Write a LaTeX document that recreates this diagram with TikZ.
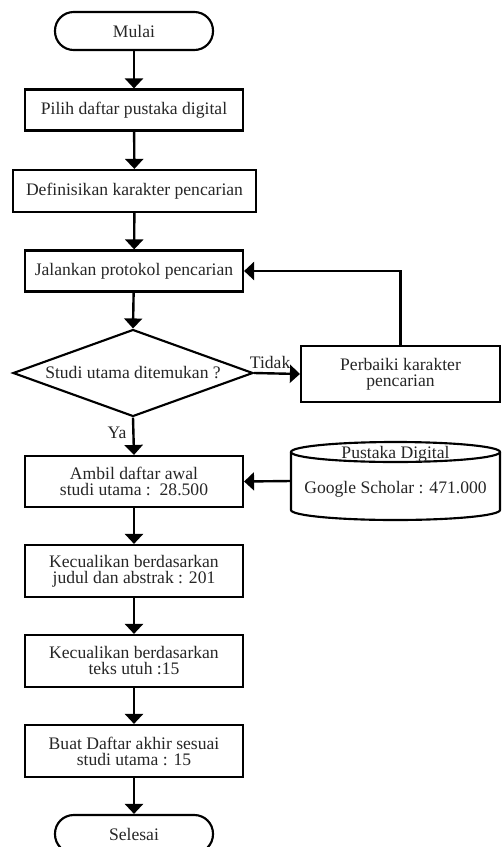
\documentclass[tikz,border=0pt]{standalone}
\usepackage{fontspec}
\setmainfont{Liberation Serif}
\usetikzlibrary{shapes.geometric,arrows.meta}
\begin{document}
\begin{tikzpicture}[x=0.75pt,y=-0.75pt,
  every node/.style={font=\fontsize{13.2}{12}\selectfont, align=center, text=black!85},
  box/.style={draw, line width=1.6pt, rectangle, inner sep=2pt, minimum width=163.5pt},
  term/.style={draw, line width=1.6pt, rectangle, rounded corners=14pt, minimum width=118.5pt, minimum height=28.5pt},
  dia/.style={draw, line width=1.6pt, diamond, inner sep=0pt, minimum width=180pt, minimum height=65.25pt},
  arr/.style={line width=1.8pt, -{Triangle[width=13.5pt,length=7.5pt]}}]
\useasboundingbox (0,0) rectangle (502,847);
\node[term] (start) at (134,31) {Mulai};
\node[box, minimum height=30.75pt] (pilih) at (134,110) {Pilih daftar pustaka digital};
\node[box, minimum width=182.25pt, minimum height=31.5pt] (def) at (134.5,191) {Definisikan karakter pencarian};
\node[box, minimum height=30.75pt] (jal) at (134,271) {Jalankan protokol pencarian};
\node[dia] (dec) at (133,373) {};
\node (dectxt) at (dec.center) {Studi utama ditemukan ?};
\node[box, minimum width=149.25pt, minimum height=42pt] (perb) at (400.5,374) {Perbaiki karakter\\pencarian};
\node[box, minimum height=38.25pt] (ambil) at (134,481.5) {Ambil daftar awal\\studi utama :\ \ 28.500};
\node[minimum width=156.75pt, minimum height=58.5pt, inner sep=0pt] (cyl) at (395.5,481) {};
\draw[line width=1.6pt] (291,452) -- (291,510) arc[start angle=180,end angle=360,x radius=78.375pt,y radius=7.5pt] -- (500,452);
\draw[line width=1.6pt] (395.5,452) ellipse[x radius=78.375pt, y radius=7.5pt];
\node (cylt) at (395.5,454) {Pustaka Digital};
\node (cylb) at (395.5,489) {Google Scholar : 471.000};
\node[box, minimum height=39pt] (kec1) at (134,571) {Kecualikan berdasarkan\\judul dan abstrak : 201};
\node[box, minimum height=39pt] (kec2) at (134,661) {Kecualikan berdasarkan\\teks utuh :15};
\node[box, minimum height=39pt] (buat) at (134,751) {Buat Daftar akhir sesuai\\studi utama : 15};
\node[term] (stop) at (134,834) {Selesai};
\draw[arr] (start) -- (pilih);
\draw[arr] (pilih) -- (def);
\draw[arr] (def) -- (jal);
\draw[arr] (jal) -- (dec.north);
\draw[arr] (dec.east) -- (perb.west) node[pos=0.35, above=-1pt] {Tidak};
\draw[arr] (perb.north) |- (jal.east);
\draw[arr] (dec.south) -- (ambil.north) node[pos=0.4, left=1pt] {Ya};
\draw[arr] (cyl.west) -- (ambil.east);
\draw[arr] (ambil) -- (kec1);
\draw[arr] (kec1) -- (kec2);
\draw[arr] (kec2) -- (buat);
\draw[arr] (buat) -- (stop);
\end{tikzpicture}
\end{document}
